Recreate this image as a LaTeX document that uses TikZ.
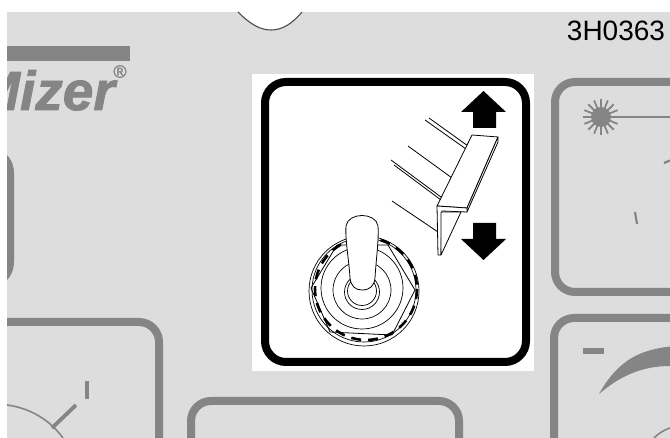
\documentclass[tikz,border=0pt]{standalone}
\usepackage{fontspec}
\setmainfont{Liberation Sans}
\definecolor{panelgrey}{HTML}{DDDDDD}
\definecolor{inkgrey}{HTML}{858585}
\tikzset{
  px/.style={x=1pt,y=-1pt},
  frameline/.style={draw=inkgrey,line width=8pt,fill=none,rounded corners=20pt},
  blackframe/.style={draw=black,line width=8pt,rounded corners=21pt,fill=white},
  thin ink/.style={draw=black,line width=0.8pt},
  arrowhead/.style={fill=black,draw=none},
  lever/.style={draw=black,line width=0.8pt,fill=white,line join=round},
}
\begin{document}
\begin{tikzpicture}[px]
\useasboundingbox (0,0) rectangle (670,438);
\fill[white] (0,0) rectangle (670,438);
\fill[panelgrey] (7,12) rectangle (670,438);
% top notch
\filldraw[fill=white,draw=black!70,line width=1.1pt] (238,12) .. controls (250,24) and (260,30) .. (271,30) .. controls (282,30) and (292,24) .. (302,12);
\fill[white] (230,0) rectangle (310,11.4);
% grey frames
\begin{scope}
\clip (7,12) rectangle (670,438);
\draw[frameline] (690,82) -- (555,82) -- (555,292) -- (690,292);
\draw[frameline] (690,318) -- (554,318) -- (554,460);
\draw[frameline] (-10,322) -- (159,322) -- (159,460);
\draw[frameline] (459,460) -- (459,401) -- (191,401) -- (191,460);
\end{scope}
\fill[inkgrey] (7,155) .. controls (11,159) and (14,165) .. (14,174) -- (14,261) .. controls (14,270) and (11,276) .. (7,280) -- cycle;
% logo
\fill[inkgrey] (7,46) rectangle (130,61);
\begin{scope}
\clip (7,62) rectangle (130,115);
\node[anchor=base east,font=\bfseries\itshape,text=inkgrey,inner sep=0pt] (logo) at (115,110) {\fontsize{55}{55}\selectfont\addfontfeature{FakeBold=1.5}Mizer};
\end{scope}
\node[anchor=center,text=inkgrey,inner sep=0pt] (reg) at (120,71.5) {\fontsize{18}{18}\selectfont\addfontfeature{FakeBold=1.5}®};
\node[anchor=base,inner sep=0pt,text=black] (code) at (616,41) {\fontsize{28}{28}\selectfont 3H0363};
% white panel
\fill[white] (252,74) rectangle (534,371);
\draw[blackframe] (265,82) rectangle (526,362);
% arrows
\fill[arrowhead] (483.5,91) -- (506,112) -- (496,112) -- (496,128) -- (473,128) -- (473,112) -- (461,112) -- cycle;
\fill[arrowhead] (483.5,260) -- (506,239) -- (496,239) -- (496,223) -- (473,223) -- (473,239) -- (461,239) -- cycle;
% lines behind the lever
\draw[thin ink] (425,120) -- (466,149);
\draw[thin ink] (429,118) -- (468,146);
\draw[thin ink] (408,146) -- (452,178);
\draw[thin ink] (391,160) -- (441,197);
\draw[thin ink] (394,165) -- (441,200);
\draw[thin ink] (392,201) -- (438,232);
% lever
\filldraw[lever] (472,135) -- (498,137) -- (467,208) -- (437,206) -- cycle;
\filldraw[lever] (498,137) -- (498,142) -- (467,212) -- (467,208) -- cycle;
\filldraw[lever] (437,206) -- (467,208) -- (467,212) -- (442,211) -- (441,255) -- (438,255) -- cycle;
\filldraw[lever] (441,212) -- (461,212) -- (441,255) -- cycle;
% toggle switch
\draw[line width=0.7pt] (364,291) circle[radius=55];
\draw[line width=0.7pt] (364,290) circle[radius=52];
\draw[line width=2.6pt,dash pattern=on 10pt off 7pt] (366,289) circle[radius=51];
\draw[lever,fill=none] (311,288) -- (337,245) -- (388,245) -- (415,290) -- (392,335) -- (330,332) -- cycle;
\draw[line width=0.7pt] (362,288) circle[radius=41];
\draw[line width=0.7pt] (362,290) circle[radius=29];
\draw[line width=0.7pt] (362,292) circle[radius=17.5];
\draw[line width=0.7pt] (362,291) circle[radius=14.5];
\filldraw[lever] (350,278) .. controls (351,286) and (355,290) .. (362,290) .. controls (370,290) and (374,286) .. (375,278) .. controls (376,260) and (379,240) .. (378,226) .. controls (376,212) and (348,212) .. (346,226) .. controls (345,240) and (349,260) .. (350,278) -- cycle;
% right frame details
\foreach \a in {0,22.5,...,337.5} \draw[inkgrey,line width=1.8pt] (601,117) -- ++(\a:18);
\fill[inkgrey] (601,117) circle[radius=10];
\draw[inkgrey,line width=2pt] (601,117) -- (670,117);
\draw[inkgrey,line width=2.2pt] (664,163) -- (670,160.5);
\draw[inkgrey,line width=2.2pt] (635,212) -- (637,224);
\fill[inkgrey] (583,348) rectangle (604,354);
\fill[inkgrey] (599,394) .. controls (618,360) and (640,350) .. (670,346.5) -- (670,366) .. controls (642,366) and (620,376) .. (599,394) -- cycle;
\draw[inkgrey,line width=1.6pt] (654,438) .. controls (659,433) and (664,430) .. (670,428);
% left bottom frame details
\draw[inkgrey,line width=4pt] (87,381) -- (87,399);
\draw[inkgrey,line width=3.8pt] (76,405) -- (52,428);
\draw[inkgrey,line width=1.6pt] (7,405) .. controls (30,408) and (50,420) .. (63,438);
\end{tikzpicture}
\end{document}
